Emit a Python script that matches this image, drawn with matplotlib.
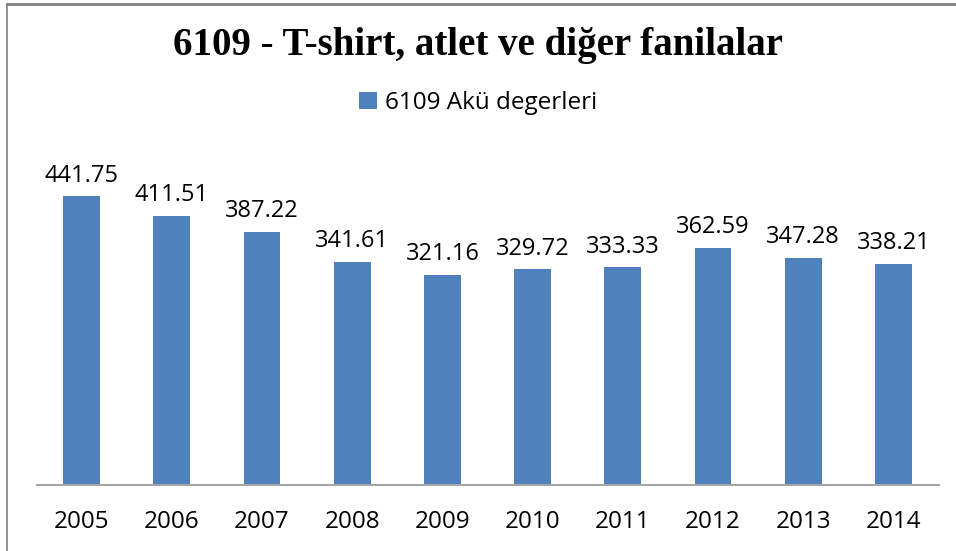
import matplotlib
matplotlib.use("Agg")
import matplotlib.pyplot as plt
from matplotlib.patches import Patch
from matplotlib.lines import Line2D

years = ["2005", "2006", "2007", "2008", "2009", "2010", "2011", "2012", "2013", "2014"]
values = [441.75, 411.51, 387.22, 341.61, 321.16, 329.72, 333.33, 362.59, 347.28, 338.21]
series_name = "6109 Akü degerleri"
title = "6109 - T-shirt, atlet ve diğer fanilalar"

bar_color = "#4F81BD"
W, H = 956, 551
fig = plt.figure(figsize=(W / 100, H / 100), dpi=100)
fig.patch.set_facecolor("white")

ax = fig.add_axes([36.5 / W, 1 - 485 / H, 902 / W, 327 / H])
x = list(range(len(years)))
ax.bar(x, values, width=0.41, color=bar_color, zorder=2)
ax.set_xlim(-0.5, len(years) - 0.5)
ax.set_ylim(0, 500)
for xi, v in zip(x, values):
    ax.text(xi, v + 13, f"{v:.2f}", ha="center", va="bottom",
            fontsize=17, family="Open Sans", color="#000000")
ax.set_xticks(x)
ax.set_xticklabels(years, fontsize=17.5, family="Open Sans")
ax.tick_params(axis="x", length=0, pad=18)
ax.set_yticks([])
for s in ["top", "right", "left"]:
    ax.spines[s].set_visible(False)
ax.spines["bottom"].set_color("#A6A6A6")
ax.spines["bottom"].set_linewidth(1.5)
ax.set_facecolor("none")

fig.text(0.5, 1 - 46 / H, title, ha="center", va="center",
         fontsize=28, fontweight="bold", family="Liberation Serif")

handle = Patch(facecolor=bar_color, edgecolor="none")
fig.legend([handle], [series_name], loc="center", bbox_to_anchor=(0.5, 1 - 103 / H),
           frameon=False, prop={"family": "Open Sans", "size": 17.5},
           handlelength=0.75, handleheight=0.75, handletextpad=0.3)

# chart border (top and left visible)
fig.add_artist(Line2D([7 / W, 1], [1 - 4 / H, 1 - 4 / H], color="#808080", lw=2,
                      transform=fig.transFigure))
fig.add_artist(Line2D([7 / W, 7 / W], [0, 1 - 4 / H], color="#808080", lw=1.2,
                      transform=fig.transFigure))

fig.savefig("out.png", dpi=100)
